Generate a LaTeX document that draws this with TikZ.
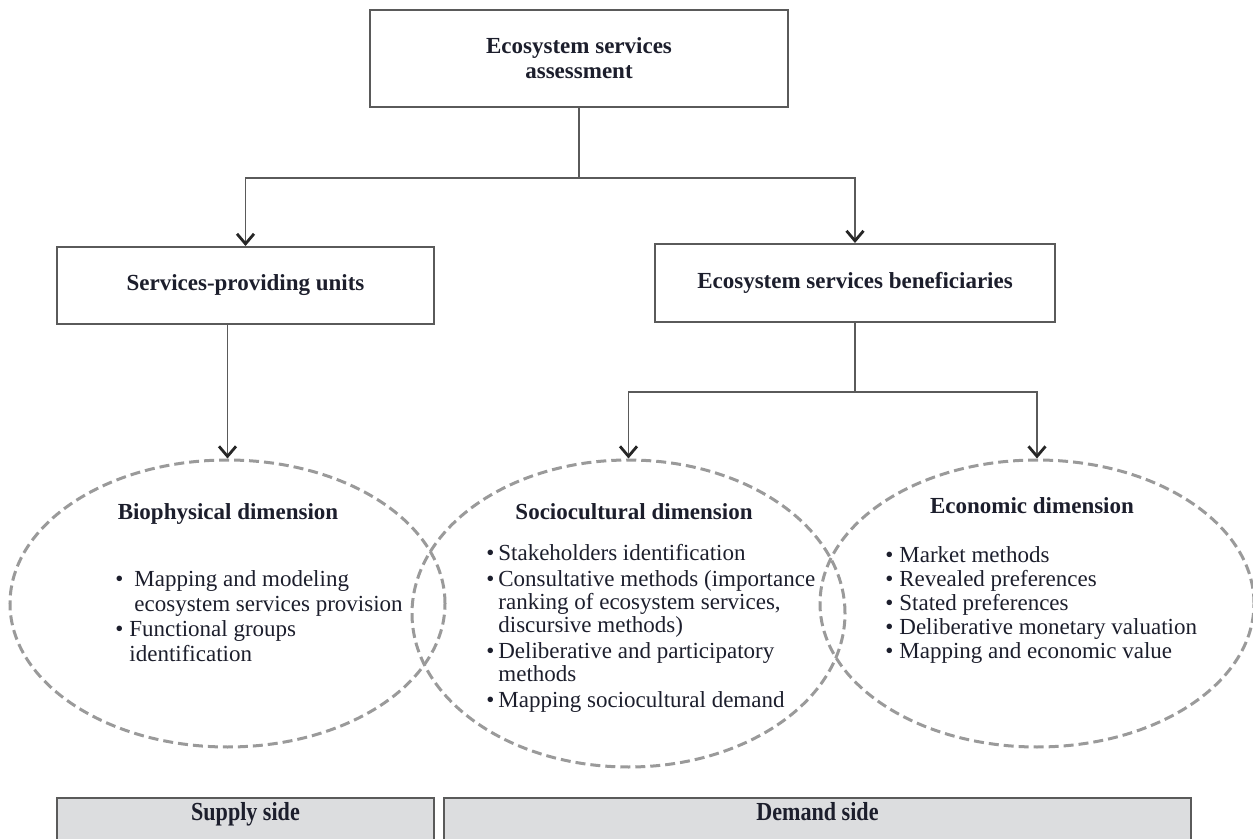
\documentclass[tikz,border=0pt]{standalone}
\usepackage{fontspec}
\setmainfont{Liberation Serif}
\newfontfamily\condfont[FakeStretch=0.85]{Liberation Serif}
\usetikzlibrary{arrows.meta,shapes.geometric}
\definecolor{boxline}{HTML}{5A5A5A}
\definecolor{dashgray}{HTML}{9A9A9A}
\definecolor{sidefill}{HTML}{DCDDDF}
\definecolor{txt}{HTML}{1C1E2C}
\newcommand{\bl}{\makebox[7pt][l]{\textbullet}}
\begin{document}
\begin{tikzpicture}[x=0.5pt,y=-0.5pt,
  box/.style={draw=boxline, line width=1pt, fill=white, inner sep=0pt, align=center,
    font=\fontsize{11.5}{12.5}\selectfont\bfseries, text=txt},
  dim/.style={draw=dashgray, line width=1.5pt, dash pattern=on 5pt off 2.5pt, ellipse, inner sep=0pt},
  conn/.style={draw=boxline, line width=0.9pt},
  arr/.style={conn, -{Straight Barb[length=5pt,width=8.5pt,line width=1.4pt,color=black!85]}},
  head/.style={font=\fontsize{11.5}{12}\selectfont\bfseries, text=txt, inner sep=0pt, anchor=base},
  list/.style={text=txt, inner sep=0pt, anchor=base west},
  side/.style={draw=boxline, line width=0.9pt, fill=sidefill, anchor=north, inner xsep=0pt,
    inner ysep=1.5pt, text height=10pt, text depth=10pt,
    font=\condfont\fontsize{13}{14}\selectfont\bfseries, text=txt}
]
\useasboundingbox (0,0) rectangle (1253,839);
\clip (0,0) rectangle (1253,839);

% boxes
\node[box, minimum width=209pt, minimum height=48.5pt] (top) at (579,58.5)
  {Ecosystem services\\assessment};
\node[box, minimum width=188.5pt, minimum height=38.5pt] (spu) at (245.5,285.5)
  {Services-providing units};
\node[box, minimum width=200pt, minimum height=39pt] (esb) at (855,283)
  {Ecosystem services beneficiaries};

% ellipses
\node[dim, minimum width=217.5pt, minimum height=143.5pt] (bio) at (227.5,603.5) {};
\node[dim, minimum width=216.5pt, minimum height=153.5pt] (soc) at (628.5,613.5) {};
\node[dim, minimum width=217pt, minimum height=143.5pt] (eco) at (1037,603.5) {};

% connectors
\draw[conn] (top.south) -- ++(0,70) coordinate (split);
\draw[arr] (split) -| (spu.north);
\draw[arr] (split) -| (esb.north);
\draw[arr] (bio.north |- spu.south) -- (bio.north);
\draw[conn] (esb.south) -- ++(0,69) coordinate (split2);
\draw[arr] (split2) -| (soc.north);
\draw[arr] (split2) -| (eco.north);

% headings
\node[head] (bioh) at (228,519) {Biophysical dimension};
\node[head] (soch) at (634,519) {Sociocultural dimension};
\node[head] (ecoh) at (1032,513) {Economic dimension};

% lists
\node[list, font=\fontsize{11.5}{12.5}\selectfont] (biol) at (115,586)
  {\begin{tabular}[t]{@{}l@{}l@{}}
   \bl & \hspace{2.5pt}Mapping and modeling\\
       & \hspace{2.5pt}ecosystem services provision\\
   \bl & Functional groups\\
       & identification
   \end{tabular}};
\node[list, font=\fontsize{11.5}{11.5}\selectfont] (socl) at (486,560)
  {\begin{tabular}[t]{@{}l@{\hspace{-1pt}}l@{}}
   \bl & Stakeholders identification\\[1.5pt]
   \bl & Consultative methods (importance\\
       & ranking of ecosystem services,\\
       & discursive methods)\\[1.5pt]
   \bl & Deliberative and participatory\\
       & methods\\[1.5pt]
   \bl & Mapping sociocultural demand
   \end{tabular}};
\node[list, font=\fontsize{11.5}{12}\selectfont] (ecol) at (885,562)
  {\begin{tabular}[t]{@{}l@{}l@{}}
   \bl & Market methods\\
   \bl & Revealed preferences\\
   \bl & Stated preferences\\
   \bl & Deliberative monetary valuation\\
   \bl & Mapping and economic value
   \end{tabular}};

% bottom bars
\node[side, minimum width=188.5pt] (supply) at (245.5,797) {Supply side};
\node[side, minimum width=373.5pt] (demand) at (817.5,797) {Demand side};
\end{tikzpicture}
\end{document}
